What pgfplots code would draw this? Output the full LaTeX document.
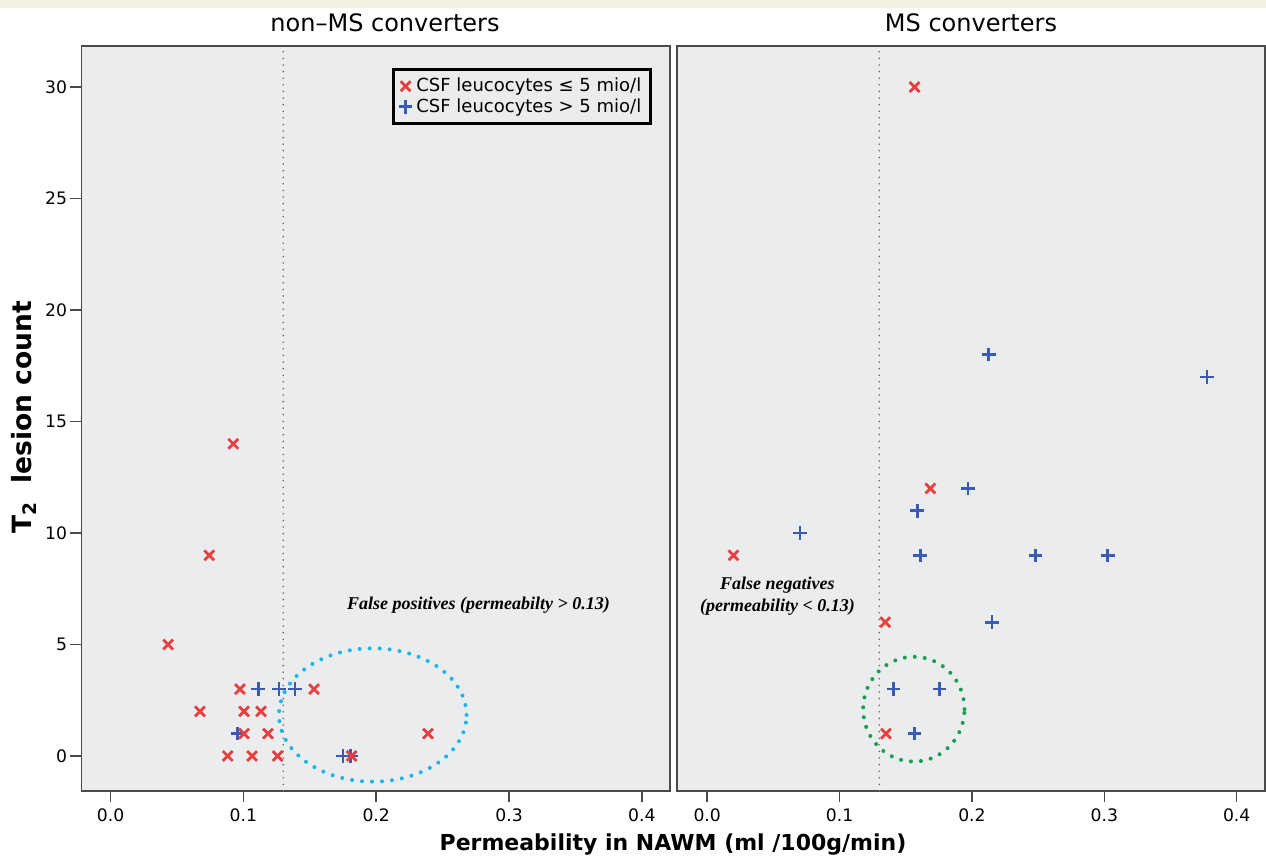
\documentclass[border=0pt]{standalone}
\usepackage{pgfplots}
\pgfplotsset{compat=1.18}
\usepackage{fontspec}
\setmainfont{DejaVu Sans}
\newfontfamily\annfont{Liberation Serif}
\definecolor{panelbg}{HTML}{EBECEE}
\definecolor{axisgray}{HTML}{4A4A4A}
\definecolor{redc}{HTML}{E8403F}
\definecolor{bluec}{HTML}{3A5BB5}
\definecolor{cyanc}{HTML}{19B4EA}
\definecolor{greenc}{HTML}{12A04C}
\definecolor{beige}{HTML}{F5F1E2}

\pgfplotstableread{
x y
0.0924 14
0.0743 9
0.0434 5
0.0974 3
0.1532 3
0.0673 2
0.1005 2
0.1133 2
0.1005 1
0.1185 1
0.2390 1
0.0882 0
0.1065 0
0.1258 0
0.1815 0
}\leftred
\pgfplotstableread{
x y
0.0957 1
0.1112 3
0.1268 3
0.1389 3
0.1750 0
0.1808 0
}\leftblue
\pgfplotstableread{
x y
0.1567 30
0.1686 12
0.0199 9
0.1345 6
0.1351 1
}\rightred
\pgfplotstableread{
x y
0.2127 18
0.3776 17
0.1971 12
0.1586 11
0.0701 10
0.1609 9
0.2479 9
0.3026 9
0.2152 6
0.1406 3
0.1756 3
0.1567 1
}\rightblue

\pgfplotsset{
  panel/.style={
    scale only axis,
    anchor=south west,
    height=372.5pt,
    ymin=-1.57, ymax=31.84,
    axis background/.style={fill=panelbg},
    axis line style={draw=axisgray, line width=0.75pt},
    tick style={draw=axisgray, line width=0.75pt},
    major tick length=5.5pt,
    tick align=outside,
    xtick pos=bottom, ytick pos=left,
    xtick={0,0.1,0.2,0.3,0.4},
    ytick={0,5,10,15,20,25,30},
    xticklabel style={/pgf/number format/.cd, fixed, fixed zerofill, precision=1},
    ticklabel style={font=\fontsize{8.6}{10}\selectfont},
    /pgf/number format/assume math mode=true,
    clip=false,
  },
  redm/.style={only marks, mark=x, mark size=3.5pt, line width=1.4pt, color=redc},
  bluem/.style={only marks, mark=+, mark size=3.4pt, line width=1.4pt, color=bluec},
}

\begin{document}
\begin{tikzpicture}
\useasboundingbox (0,0) rectangle (633pt,429.5pt);
\fill[beige] (0,425.5pt) rectangle (633pt,429.5pt);

\begin{axis}[panel, at={(40.75pt,34pt)}, width=294.25pt,
  xmin=-0.0219, xmax=0.4212,
  yticklabel style={inner xsep=1.5pt},
  legend style={at={(0.969,0.970)}, anchor=north east, draw=black, line width=1.5pt,
    fill=panelbg, font=\fontsize{9}{10}\selectfont, inner xsep=2.5pt, inner ysep=2pt,
    row sep=-2pt},
  legend cell align=left,
  legend image code/.code={\draw[mark repeat=2,mark phase=2,#1] plot coordinates {(0cm,0cm)(0.2cm,0cm)(0.4cm,0cm)};},
  ]
\addlegendimage{redm}
\addlegendentry{CSF leucocytes ≤ 5 mio/l}
\addlegendimage{bluem}
\addlegendentry{CSF leucocytes > 5 mio/l}
\draw[gray!85!black, line width=0.9pt, dash pattern=on 0pt off 3.3pt, line cap=round] (axis cs:0.13,-1.57) -- (axis cs:0.13,31.84);
\addplot[bluem, forget plot] table {\leftblue};
\addplot[redm, forget plot] table {\leftred};
\draw[cyanc, line width=2pt, dash pattern=on 0pt off 5pt, line cap=round] (axis cs:0.1974,1.84) ellipse [x radius=0.0706, y radius=2.99];
\node[anchor=base, font=\annfont\bfseries\itshape\fontsize{9}{11}\selectfont] at (axis cs:0.277,6.59) {False positives (permeabilty > 0.13)};
\end{axis}

\begin{axis}[panel, at={(338.5pt,34pt)}, width=294pt,
  xmin=-0.0228, xmax=0.4214, ytick=\empty,
  ]
\draw[gray!85!black, line width=0.9pt, dash pattern=on 0pt off 3.3pt, line cap=round] (axis cs:0.13,-1.57) -- (axis cs:0.13,31.84);
\addplot[bluem] table {\rightblue};
\addplot[redm] table {\rightred};
\draw[greenc, line width=2pt, dash pattern=on 0pt off 5pt, line cap=round] (axis cs:0.1561,2.1) ellipse [x radius=0.0383, y radius=2.35];
\node[anchor=base, align=center, font=\annfont\bfseries\itshape\fontsize{9}{11}\selectfont] at (axis cs:0.0531,6.5) {False negatives\\(permeability < 0.13)};
\end{axis}

\node[anchor=base, font=\fontsize{12}{14}\selectfont] at (192.5pt,413.65pt) {non–MS converters};
\node[anchor=base, font=\fontsize{12}{14}\selectfont] at (485.5pt,413.65pt) {MS converters};
\node[anchor=base, font=\bfseries\fontsize{11}{13}\selectfont] at (336.5pt,4.5pt) {Permeability in NAWM (ml /100g/min)};
\node[anchor=base, rotate=90, font=\bfseries\fontsize{13.25}{15}\selectfont] at (16pt,220.75pt) {T\textsubscript{2}\ \ lesion count};
\end{tikzpicture}
\end{document}
